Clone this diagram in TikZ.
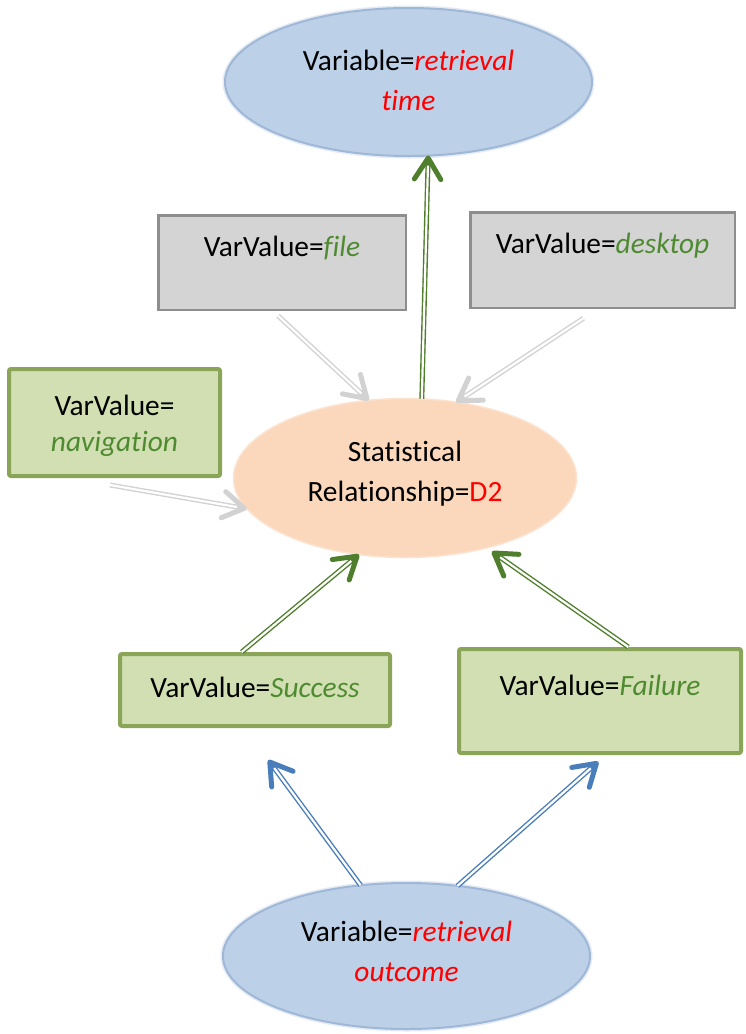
\documentclass[tikz,border=0pt]{standalone}
\usepackage{fontspec}
\setmainfont{Carlito}[Ligatures=NoCommon]
\usetikzlibrary{calc,shapes.geometric}

\definecolor{bluefill}{HTML}{BCD0E7}
\definecolor{blueedge}{HTML}{A0B8D7}
\definecolor{blueglow}{HTML}{E4EBF4}
\definecolor{peachfill}{HTML}{FBD8BC}
\definecolor{peachedge}{HTML}{FCE3D0}
\definecolor{greyfill}{HTML}{D4D4D4}
\definecolor{greyedge}{HTML}{8E8E8E}
\definecolor{greenfill}{HTML}{D1DFB2}
\definecolor{greenedge}{HTML}{8AA557}
\definecolor{valgreen}{HTML}{4E8B30}
\definecolor{linkgreen}{HTML}{4F7F2C}
\definecolor{linkblue}{HTML}{4A7EBB}
\definecolor{linkgrey}{HTML}{D2D2D2}
\definecolor{varred}{HTML}{FF0000}

% a line of text whose baseline sits #1 above the centre of its node
\newcommand\txtline[2]{\raisebox{#1}[0pt][0pt]{\makebox[0pt]{#2}}}
\newcommand\val[1]{\textcolor{valgreen}{\textit{#1}}}
\newcommand\var[1]{\textcolor{varred}{\textit{#1}}}

% double-shafted link with an open barbed head: colour, from, to
\newcommand\linkarrow[3]{%
  \path #2 coordinate (ls) #3 coordinate (le);
  \coordinate (la) at ($(le)!2.5pt!(ls)$);
  \draw[draw=#1, line width=5pt, shorten >=3pt] (ls) -- (le);
  \draw[white, line width=2.2pt, shorten >=10pt] (ls) -- (le);
  \draw[draw=#1, line width=5pt, line cap=round, line join=round]
    ($(la)!25pt!32:(ls)$) -- (la) -- ($(la)!25pt!-32:(ls)$);
}

\begin{document}
\begin{tikzpicture}[x=1pt,y=-1pt,
  font=\fontsize{29.4}{41}\selectfont,
  box/.style={rectangle, inner sep=0pt, outer sep=0pt},
  greybox/.style={box, draw=greyedge, fill=greyfill, line width=2.5pt},
  greenbox/.style={box, draw=greenedge, fill=greenfill, line width=4pt, rounded corners=2pt},
  oval/.style={ellipse, inner sep=0pt, outer sep=0pt},
  blueoval/.style={oval, draw=blueedge, fill=bluefill, line width=2pt,
                   preaction={draw=blueglow, line width=5pt}},
  peachoval/.style={oval, draw=peachedge, fill=peachfill, line width=1.5pt}]

\useasboundingbox[fill=white] (0,0) rectangle (745,1034);

% variables
\node[blueoval, minimum width=367pt, minimum height=148pt] (top) at (408.5,82)
  {\txtline{12pt}{Variable=\var{retrieval}}\txtline{-28pt}{\var{time}}};
\node[blueoval, minimum width=367pt, minimum height=146pt] (bot) at (406.5,956)
  {\txtline{14.3pt}{Variable=\var{retrieval}}\txtline{-25.7pt}{\var{outcome}}};

% statistical relationship
\node[peachoval, minimum width=343pt, minimum height=159pt] (rel) at (405,478)
  {\txtline{16.3pt}{Statistical}\txtline{-23.7pt}{Relationship=\textcolor{varred}{D2}}};

% variable values
\node[greybox, minimum width=247.5pt, minimum height=94.5pt] (file) at (282,262.5)
  {\txtline{5.8pt}{VarValue=\val{file}}};
\node[greybox, minimum width=264.5pt, minimum height=95.5pt] (desk) at (602.5,260)
  {\txtline{7pt}{VarValue=\val{desktop}}};
\node[greenbox, minimum width=211pt, minimum height=107pt] (nav) at (114.5,422.5)
  {\txtline{7.5pt}{VarValue=}\txtline{-28.5pt}{\val{navigation}}};
\node[greenbox, minimum width=270pt, minimum height=72pt] (succ) at (255,690)
  {\txtline{-7pt}{VarValue=\val{Success}}};
\node[greenbox, minimum width=282pt, minimum height=104pt] (fail) at (600,701)
  {\txtline{6pt}{VarValue=\val{Failure}}};

% links
\linkarrow{linkgreen}{(rel.78)}{(top.-75)}
\linkarrow{linkgrey}{([shift={(-4,6)}]file.south)}{(rel.115)}
\linkarrow{linkgrey}{([shift={(-19,10.5)}]desk.south)}{(rel.56)}
\linkarrow{linkgrey}{([shift={(-4.5,9)}]nav.south)}{(rel.191)}
\linkarrow{linkgreen}{([shift={(-13.3,-2)}]succ.north)}{(rel.-121)}
\linkarrow{linkgreen}{([shift={(28.3,-2)}]fail.north)}{([shift={(4,4)}]rel.-40)}
\linkarrow{linkblue}{(bot.123)}{([shift={(13.3,34)}]succ.south)}
\linkarrow{linkblue}{(bot.54.5)}{([shift={(-1.7,8.7)}]fail.south)}

\end{tikzpicture}
\end{document}
